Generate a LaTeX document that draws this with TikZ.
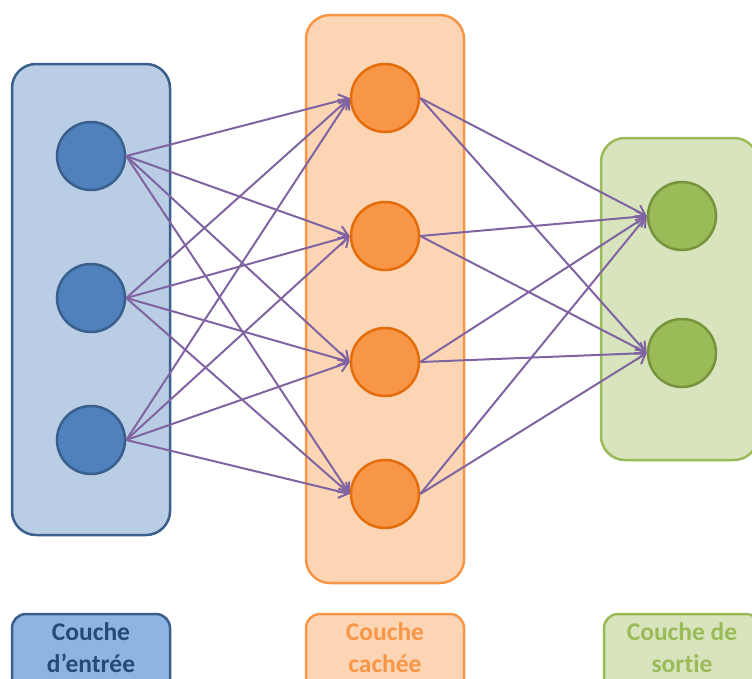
\documentclass[tikz,border=0pt]{standalone}
\usepackage{fontspec}
\setmainfont{Carlito}[Ligatures=NoCommon]
\usetikzlibrary{arrows.meta}
\definecolor{inFill}{HTML}{B9CDE5}
\definecolor{inLine}{HTML}{3A5F8C}
\definecolor{inCirc}{HTML}{4F81BD}
\definecolor{inLab}{HTML}{8EB4E3}
\definecolor{inText}{HTML}{254A78}
\definecolor{hidFill}{HTML}{FCD5B5}
\definecolor{hidLine}{HTML}{F79646}
\definecolor{hidCirc}{HTML}{F79646}
\definecolor{hidCircLine}{HTML}{E46C0A}
\definecolor{outFill}{HTML}{D7E4BD}
\definecolor{outLine}{HTML}{9BBB59}
\definecolor{outCirc}{HTML}{9BBB59}
\definecolor{outCircLine}{HTML}{77933C}
\definecolor{arr}{HTML}{8064A2}
\tikzset{
  layerbox/.style={rounded corners=24pt, line width=2.5pt},
  neuron/.style={circle, minimum size=68pt, inner sep=0pt, line width=2.5pt},
  labbox/.style={rounded corners=14pt, line width=2.5pt},
  labtext/.style={font=\bfseries\fontsize{25.5}{32}\selectfont, align=center},
  conn/.style={draw=arr, line width=2pt, -{Straight Barb[length=9pt,width=13pt,line width=2pt]}}
}
\begin{document}
\begin{tikzpicture}[x=1pt,y=-1pt]
\useasboundingbox (0,0) rectangle (752,678);
\clip (0,0) rectangle (752,678);
% layer boxes
\draw[layerbox, fill=inFill, draw=inLine] (12,64) rectangle (170,535);
\draw[layerbox, fill=hidFill, draw=hidLine] (306,15) rectangle (464,583);
\draw[layerbox, fill=outFill, draw=outLine] (601,138) rectangle (758,460);
% neurons
\foreach \i/\y in {1/156,2/298,3/440}
  \node[neuron, fill=inCirc, draw=inLine] (i\i) at (91,\y) {};
\foreach \i/\y in {1/98,2/236,3/362,4/494}
  \node[neuron, fill=hidCirc, draw=hidCircLine] (h\i) at (385,\y) {};
\foreach \i/\y in {1/216,2/353}
  \node[neuron, fill=outCirc, draw=outCircLine] (o\i) at (682,\y) {};
% connections
\foreach \a in {1,2,3}
  \foreach \b in {1,2,3,4}
    \draw[conn] (i\a.east) -- (h\b.west);
\foreach \a in {1,2,3,4}
  \foreach \b in {1,2}
    \draw[conn] (h\a.east) -- (o\b.west);
% labels
\draw[labbox, fill=inLab, draw=inLine] (12,614) rectangle (170,700);
\node[labtext, text=inText] (l1) at (91,648) {Couche\\d’entrée};
\draw[labbox, fill=hidFill, draw=hidLine] (306,614) rectangle (464,700);
\node[labtext, text=hidLine] (l2) at (385,648) {Couche\\cachée};
\draw[labbox, fill=outFill, draw=outLine] (604,614) rectangle (760,700);
\node[labtext, text=outLine] (l3) at (682,648) {Couche de\\sortie};
\end{tikzpicture}
\end{document}
